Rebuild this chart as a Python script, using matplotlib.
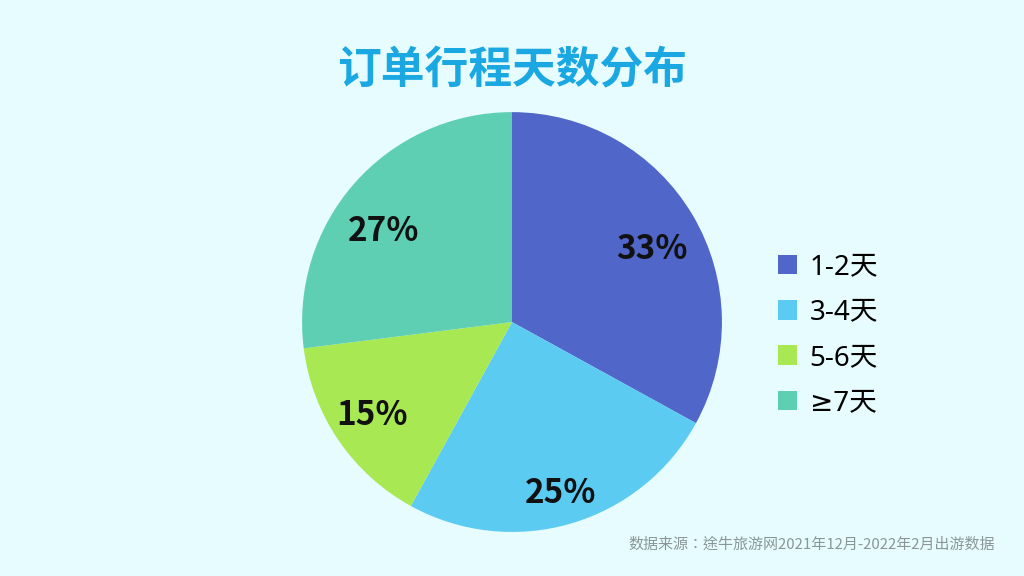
import numpy as np
import matplotlib.pyplot as plt
from matplotlib.font_manager import FontProperties

plt.rcParams['font.family'] = ['Noto Sans CJK SC', 'DejaVu Sans']

labels = ['1-2天', '3-4天', '5-6天', '≥7天']
values = [33, 25, 15, 27]
colors = ['#5066C8', '#5BCBF2', '#A8E852', '#5ECFB2']
title = '订单行程天数分布'
source = '数据来源：途牛旅游网2021年12月-2022年2月出游数据'

bg = '#E6FCFE'
fig = plt.figure(figsize=(10.24, 5.76), dpi=100, facecolor=bg)

ax = fig.add_axes([0.295, 0.0764, 0.41, 0.729])
ax.set_facecolor(bg)
wedges, texts, autotexts = ax.pie(values, colors=colors, startangle=90, counterclock=False,
                                  autopct='%d%%', pctdistance=0.78, radius=1.0,
                                  textprops={'fontsize': 24, 'fontweight': 'bold', 'color': '#111111'})
# label distance / angle nudge per slice (like ppt "best fit")
label_r = [0.76, 0.83, 0.79, 0.76]
label_da = [-2, 0, -1.5, 5]
for w, t, r, da in zip(wedges, autotexts, label_r, label_da):
    ang = np.deg2rad((w.theta1 + w.theta2) / 2 + da)
    t.set_position((r * np.cos(ang), r * np.sin(ang) - 0.02))
ax.set_xlim(-1, 1)
ax.set_ylim(-1, 1)
ax.set_aspect('equal')
ax.axis('off')

fig.text(0.5, 0.878, title, ha='center', va='center', fontsize=31.5, fontweight='black', color='#1AA7E2')

legfont = FontProperties(family=['Noto Sans', 'DejaVu Sans', 'Noto Sans CJK SC'], size=20)
leg = fig.legend(wedges, labels, loc='center left', bbox_to_anchor=(0.735, 0.418), frameon=False,
                 prop=legfont, handlelength=0.7, handleheight=0.7, handletextpad=0.45,
                 labelspacing=0.62)

fig.text(0.972, 0.054, source, ha='right', va='center', fontsize=10.8, color='#8A9696',
         family=['Noto Sans CJK TC', 'DejaVu Sans'])

fig.savefig('out.png', dpi=100, facecolor=bg)
